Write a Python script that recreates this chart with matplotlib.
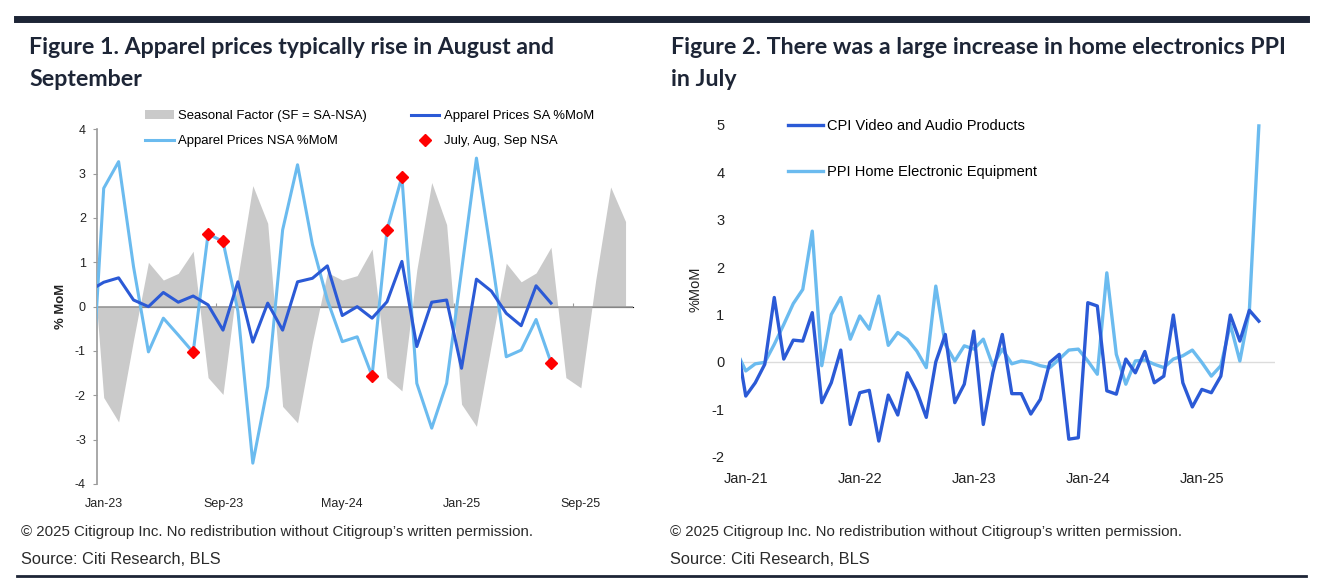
import numpy as np
import matplotlib
matplotlib.use("Agg")
import matplotlib.pyplot as plt
from matplotlib import font_manager
from matplotlib.lines import Line2D

# ---- data: Figure 1 (months from Dec-22 = -1 to Dec-25 = 35) ----
apparel_nsa = [-3.0, 2.67, 3.27, 0.9, -1.02, -0.26, -0.64, -1.03, 1.64, 1.47,
               -0.1, -3.53, -1.8, 1.73, 3.2, 1.4, 0.15, -0.79, -0.68, -1.56,
               1.73, 2.93, -1.73, -2.74, -1.73, 0.81, 3.35, 1.15, -1.13, -0.98,
               -0.29, -1.26]
apparel_sa = [0.35, 0.55, 0.65, 0.15, 0.0, 0.32, 0.1, 0.24, 0.04, -0.53,
              0.56, -0.8, 0.08, -0.53, 0.56, 0.64, 0.92, -0.2, 0.0, -0.26,
              0.11, 1.02, -0.9, 0.1, 0.15, -1.39, 0.62, 0.35, -0.15, -0.43,
              0.47, 0.08]
seasonal_factor = [2.3, -2.05, -2.6, -0.75, 1.0, 0.6, 0.75, 1.25, -1.6, -1.98,
                   0.66, 2.73, 1.88, -2.25, -2.62, -0.8, 0.77, 0.6, 0.7, 1.3,
                   -1.6, -1.9, 0.83, 2.8, 1.85, -2.2, -2.7, -0.85, 0.98, 0.56,
                   0.76, 1.34, -1.6, -1.83, 0.6, 2.7, 1.92]
jas_months = [6, 7, 8, 18, 19, 20, 30]  # July, Aug, Sep (months since Jan-23)
fig1_ticks = [0, 8, 16, 24, 32]
fig1_labels = ["Jan-23", "Sep-23", "May-24", "Jan-25", "Sep-25"]

# ---- data: Figure 2 (months from Dec-20 = -1 to Jul-25 = 54) ----
cpi_video_audio = [0.48, -0.72, -0.44, -0.05, 1.36, 0.06, 0.46, 0.44, 1.04, -0.86,
                   -0.44, 0.25, -1.32, -0.65, -0.6, -1.67, -0.7, -1.12, -0.23, -0.62,
                   -1.17, 0.0, 0.58, -0.86, -0.47, 0.65, -1.32, -0.23, 0.58, -0.67,
                   -0.67, -1.1, -0.79, -0.01, 0.16, -1.63, -1.6, 1.25, 1.18, -0.61,
                   -0.68, 0.06, -0.23, 0.22, -0.44, -0.3, 0.99, -0.44, -0.95, -0.58,
                   -0.65, -0.3, 0.99, 0.44, 1.09, 0.86]
ppi_home_elec = [0.23, -0.19, -0.04, -0.01, 0.37, 0.79, 1.23, 1.53, 2.76, -0.08,
                 1.0, 1.36, 0.48, 0.97, 0.69, 1.39, 0.35, 0.62, 0.48, 0.23,
                 -0.12, 1.6, 0.37, 0.02, 0.34, 0.27, 0.48, -0.08, 0.27, -0.04,
                 0.02, -0.01, -0.08, -0.12, 0.06, 0.25, 0.27, 0.02, -0.26, 1.88,
                 0.16, -0.47, 0.02, 0.04, -0.05, -0.12, 0.06, 0.13, 0.25, -0.01,
                 -0.3, -0.08, 0.79, 0.02, 1.08, 4.98]
fig2_ticks = [0, 12, 24, 36, 48]
fig2_labels = ["Jan-21", "Jan-22", "Jan-23", "Jan-24", "Jan-25"]

# ---- fonts / colours ----
plt.rcParams["axes.unicode_minus"] = False
names = {f.name for f in font_manager.fontManager.ttflist}
narrow = "Liberation Sans Narrow" if "Liberation Sans Narrow" in names else "Liberation Sans"
nscale = 1.0 if narrow == "Liberation Sans Narrow" else 0.9
regular = "Liberation Sans"
title_font = "Lato" if "Lato" in names else "DejaVu Sans"

navy = "#1d2536"
dark_blue = "#2b5ad6"
light_blue = "#6bbbef"
grey_fill = "#cacaca"
txt = "#222222"

W, H = 1340, 584
fig = plt.figure(figsize=(W / 100, H / 100), dpi=100)
fig.patch.set_facecolor("white")


def fx(px):
    return px / W


def fy(py):
    return 1 - py / H


# rules
fig.add_artist(Line2D([fx(17), fx(1306)], [fy(19), fy(19)], lw=5, color=navy))
fig.add_artist(Line2D([fx(17), fx(1306)], [fy(576), fy(576)], lw=2, color=navy))

# titles
tkw = dict(fontsize=16.7, fontweight="bold", color=navy, family=title_font, va="center")
fig.text(fx(29), fy(48), "Figure 1. Apparel prices typically rise in August and", **tkw)
fig.text(fx(29), fy(79), "September", **tkw)
fig.text(fx(671), fy(48), "Figure 2. There was a large increase in home electronics PPI", **tkw)
fig.text(fx(671), fy(79), "in July", **tkw)

# footers
for x0 in (21, 670):
    fig.text(fx(x0), fy(532), "\u00a9 2025 Citigroup Inc. No redistribution without Citigroup\u2019s written permission.",
             fontsize=10.8, family=regular, color="#2b2b2b", va="center")
    fig.text(fx(x0), fy(559), "Source: Citi Research, BLS",
             fontsize=11.8, family=regular, color="#2b2b2b", va="center")

# ================= Figure 1 =================
ax1 = fig.add_axes([fx(97), fy(484), fx(633) - fx(97), fy(129.3) - fy(484)])
x_nsa = np.arange(len(apparel_nsa)) - 1
x_sf = np.arange(len(seasonal_factor)) - 1
sf_h = ax1.fill_between(x_sf, 0, seasonal_factor, color=grey_fill, lw=0)
ax1.axhline(0, color="#9a9a9a", lw=1.2, zorder=2)
nsa_h, = ax1.plot(x_nsa, apparel_nsa, color=light_blue, lw=2.2, zorder=3)
sa_h, = ax1.plot(x_nsa, apparel_sa, color=dark_blue, lw=2.2, zorder=4)
jas_h, = ax1.plot(jas_months, [apparel_nsa[m + 1] for m in jas_months], ls="none",
                  marker="D", ms=6.5, color="red", zorder=5)
ax1.set_xlim(-0.45, 35.5)
ax1.set_ylim(-4, 4)
ax1.set_yticks(range(-4, 5))
ax1.set_xticks(fig1_ticks)
ax1.set_xticklabels(fig1_labels)
for s in ("top", "right", "bottom"):
    ax1.spines[s].set_visible(False)
ax1.spines["left"].set_color("#9a9a9a")
ax1.spines["left"].set_linewidth(1.2)
ax1.tick_params(axis="y", length=3, color="#9a9a9a", pad=5, labelsize=10 * nscale,
                labelcolor=txt)
ax1.tick_params(axis="x", length=0, pad=10, labelsize=10 * nscale, labelcolor=txt)
for lab in ax1.get_xticklabels() + ax1.get_yticklabels():
    lab.set_family(narrow)
sec = ax1.secondary_xaxis(0.5)
sec.set_xticks([7.5, 15.5, 23.5, 31.5])
sec.set_xticklabels([])
sec.spines["bottom"].set_visible(False)
sec.tick_params(length=3, color="#9a9a9a", direction="out")
ax1.set_ylabel("% MoM", fontsize=10.5 * nscale, fontweight="bold", family=narrow,
               color=txt, labelpad=6)

fig.legend([sf_h, nsa_h, sa_h, jas_h],
           ["Seasonal Factor (SF = SA-NSA)", "Apparel Prices NSA %MoM",
            "Apparel Prices SA %MoM", "July, Aug, Sep NSA"],
           loc="upper left", bbox_to_anchor=(fx(145), fy(110)), ncol=2, frameon=False,
           prop={"family": narrow, "size": 10.5 * nscale}, handlelength=2.2,
           handleheight=0.6, handletextpad=0.35, columnspacing=3.3, labelspacing=1.0,
           borderaxespad=0, borderpad=0)

# ================= Figure 2 =================
ax2 = fig.add_axes([fx(741), fy(456.7), fx(1275) - fx(741), fy(122.6) - fy(456.7)])
x2 = np.arange(len(cpi_video_audio)) - 1
ax2.axhline(0, color="#dcdcdc", lw=1.0, zorder=1)
ax2.plot(x2, cpi_video_audio, color=dark_blue, lw=2.4, zorder=3,
         label="CPI Video and Audio Products")
ax2.plot(x2, ppi_home_elec, color=light_blue, lw=2.4, zorder=2,
         label="PPI Home Electronic Equipment")
ax2.set_xlim(-0.5, 55.7)
ax2.set_ylim(-2, 5.05)
ax2.set_yticks(range(-2, 6))
ax2.set_xticks(fig2_ticks)
ax2.set_xticklabels(fig2_labels)
for s in ax2.spines.values():
    s.set_visible(False)
ax2.tick_params(axis="both", length=0, labelsize=10.5, labelcolor=txt)
ax2.tick_params(axis="y", pad=12)
ax2.tick_params(axis="x", pad=11)
for lab in ax2.get_xticklabels() + ax2.get_yticklabels():
    lab.set_family(regular)
ax2.set_ylabel("%MoM", fontsize=10.5, family=regular, color=txt, labelpad=6)
ax2.legend(loc="upper left", bbox_to_anchor=(fx(788), fy(119)),
           bbox_transform=fig.transFigure, frameon=False,
           prop={"family": regular, "size": 10.5}, handlelength=2.4,
           handletextpad=0.3, labelspacing=2.2, borderaxespad=0, borderpad=0)

fig.savefig("out.png", dpi=100, facecolor="white")
